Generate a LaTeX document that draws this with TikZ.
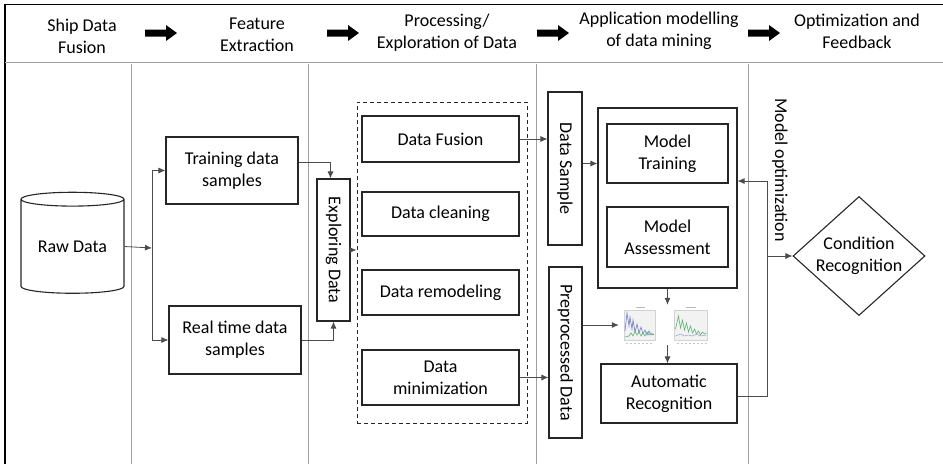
\documentclass[tikz,border=0pt]{standalone}
\usepackage{fontspec}
\setmainfont{Carlito}
\usetikzlibrary{arrows.meta}
\usetikzlibrary{shapes.geometric}
\usetikzlibrary{calc}

\definecolor{plotblue}{RGB}{110,125,200}
\definecolor{plotgreen}{RGB}{95,180,115}

\tikzset{
  box/.style={draw=black!85, line width=1.1pt, inner sep=0pt, align=center},
  vbox/.style={box, rotate=-90},
  head/.style={align=center, inner sep=0pt},
  lane/.style={draw=gray!75, line width=1pt},
  link/.style={draw=black!70, line width=0.8pt, -{Latex[length=7pt,width=6pt]}},
  bigarrow/.pic={\fill (0,-3.5) -- (21,-3.5) -- (21,-8) -- (32,0) -- (21,8) -- (21,3.5) -- (0,3.5) -- cycle;}
}

\begin{document}
\begin{tikzpicture}[x=1pt, y=-1pt, font=\fontsize{18}{22}\selectfont]
      \useasboundingbox (0,0) rectangle (943,464);

      % frame and lanes
      \draw[black, line width=1.3pt] (943,4.5) -- (5,4.5) -- (5,464);
      \draw[lane] (5,62) -- (943,62);
      \foreach \lx in {131,308,536,748}
        \draw[lane] (\lx,64) -- (\lx,464);

      % header
      \node[head] (hfusion) at (82,36) {Ship Data\\Fusion};
      \node[head] (hfeature) at (257,35) {Feature\\Extraction};
      \node[head] (hprocess) at (447,33) {Processing/\\Exploration of Data};
      \node[head] (happly) at (659,31) {Application modelling\\of data mining};
      \node[head] (hoptim) at (857,31) {Optimization and\\Feedback};
      \foreach \ax in {145,327,537,748}
        \pic at (\ax,33) {bigarrow};

      % raw data and samples
      \node[cylinder, draw=black!85, line width=1.1pt, shape border rotate=90, aspect=0.2,
            minimum width=103pt, minimum height=101pt, inner sep=0pt] (raw) at (72.5,246.5) {Raw Data};
      \coordinate (split) at (152,248);
      \node[box, minimum width=132pt, minimum height=67pt] (train) at (232,170.5) {Training data\\samples};
      \node[box, minimum width=132pt, minimum height=68pt] (realt) at (235,340) {Real time data\\samples};
      \node[vbox, minimum width=142pt, minimum height=33pt] (explore) at (333.5,250) {Exploring Data};

      % processing
      \node[draw=black!85, dashed, dash pattern=on 4pt off 3pt, line width=0.9pt,
            minimum width=170pt, minimum height=321pt] (group) at (442,262.5) {};
      \node[box, minimum width=157pt, minimum height=46pt] (fusion) at (440.5,139) {Data Fusion};
      \node[box, minimum width=157pt, minimum height=44pt] (clean) at (440.5,214) {Data cleaning};
      \node[box, minimum width=157pt, minimum height=45pt] (remodel) at (440.5,292.5) {Data remodeling};
      \node[box, minimum width=157pt, minimum height=55pt] (minim) at (440.5,377.5) {Data\\minimization};

      % modelling
      \node[vbox, minimum width=153pt, minimum height=34pt] (sample) at (565,168.5) {Data Sample};
      \node[vbox, minimum width=171pt, minimum height=33pt] (prep) at (565.5,352.5) {Preprocessed Data};
      \node[box, minimum width=139pt, minimum height=180pt] (modelbox) at (667.5,198) {};
      \node[box, minimum width=121pt, minimum height=59pt] (mtrain) at (667.5,153.5) {Model\\Training};
      \node[box, minimum width=121pt, minimum height=60pt] (massess) at (667.5,237) {Model\\Assessment};
      \node[inner sep=0pt, minimum width=38pt, minimum height=40pt] (plotA) at (638,325) {};
      \node[inner sep=0pt, minimum width=35pt, minimum height=40pt] (plotB) at (690.5,325) {};
      \node[box, minimum width=136pt, minimum height=59pt] (autorec) at (669,393.5) {Automatic\\Recognition};

      % small result plots
      \begin{scope}[shift={(plotA.center)}]
        \draw[gray!35, fill=gray!10, line width=0.4pt] (-14,-15) rectangle (17,15);
        \draw[gray!55, line width=0.6pt] (-2,-17.5) -- (7,-17.5);
        \draw[plotblue, line width=0.6pt] plot coordinates {(-13,6) (-11,-12) (-9,1) (-8,-8) (-6,4) (-5,-5) (-3,7) (-1,-1) (1,8) (3,2) (5,9) (7,5) (9,10) (11,6) (13,10) (16,9)};
        \draw[plotgreen, line width=0.6pt] plot coordinates {(-13,12) (-9,11) (-7,8) (-5,11) (-3,6) (-1,10) (1,7) (3,11) (5,8) (7,11) (9,7) (11,10) (13,8) (16,10)};
        \foreach \tx in {-12,-8,...,14}
          \draw[gray!45, line width=0.4pt] (\tx,18) -- (\tx+2,18);
      \end{scope}
      \begin{scope}[shift={(plotB.center)}]
        \draw[gray!35, fill=gray!10, line width=0.4pt] (-16,-15) rectangle (17,15);
        \draw[gray!55, line width=0.6pt] (-5,-17.5) -- (5,-17.5);
        \draw[plotgreen, line width=0.6pt] plot coordinates {(-15,4) (-12,-9) (-10,3) (-8,-5) (-6,5) (-4,-2) (-2,7) (0,1) (2,8) (4,4) (6,9) (8,6) (10,10) (12,7) (14,9) (16,8)};
        \draw[plotblue!70, line width=0.5pt] plot coordinates {(-15,11) (-10,9) (-6,11) (-2,10) (2,11) (6,9) (10,11) (16,10)};
        \foreach \tx in {-14,-10,...,14}
          \draw[gray!45, line width=0.4pt] (\tx,18) -- (\tx+2,18);
      \end{scope}

      % feedback
      \node[diamond, draw=black!85, line width=1.1pt, aspect=1.11, inner sep=-3pt,
            minimum width=132pt, minimum height=119pt, align=center] (cond) at (859,256) {Condition\\Recognition};
      \node[rotate=-90, inner sep=0pt] (optlabel) at (780,170) {Model optimization};
      \coordinate (fbtop) at (767,181);

      % connectors
      \draw[link] (raw.east) -- (split);
      \draw[link] (split) |- (train.west);
      \draw[link] (split) |- (realt.west);
      \draw[link] ([yshift=8pt]train.east) -| ([xshift=-3pt]explore.west);
      \draw[link] (realt.east) -| (explore.east);
      \draw[link] (explore.north) -- (explore.north -| group.west);
      \draw[link] (fusion.east) -- (fusion.east -| sample.south);
      \draw[link] (minim.east) -- (minim.east -| prep.south);
      \draw[link] ([yshift=5pt]sample.north) -- ([yshift=5pt]sample.north -| modelbox.west);
      \draw[link] (prep.north |- plotA.west) -- (plotA.west);
      \draw[link] (modelbox.south) -- (modelbox.south |- plotA.north);
      \draw[link] (modelbox.south |- plotA.south) -- (modelbox.south |- autorec.north);
      \draw[link] ([yshift=-3pt]autorec.east) -| (fbtop) -- (fbtop -| modelbox.east);
      \draw[link] (fbtop |- cond.west) -- (cond.west);
    \end{tikzpicture}
\end{document}
